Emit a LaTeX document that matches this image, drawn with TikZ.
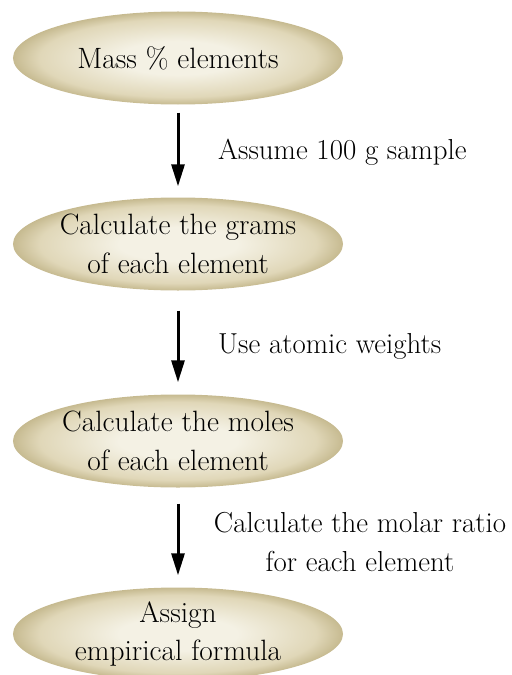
\documentclass[tikz,border=0pt]{standalone}
\usetikzlibrary{shapes.geometric,arrows.meta}
\definecolor{ovalin}{RGB}{244,241,228}
\definecolor{ovalmid}{RGB}{224,215,184}
\definecolor{ovalout}{RGB}{198,186,144}
\pgfdeclareradialshading{ovalshade}{\pgfpoint{0bp}{0bp}}{color(0bp)=(ovalin); color(9bp)=(ovalin); color(21bp)=(ovalmid); color(25bp)=(ovalout); color(50bp)=(ovalout)}
\tikzset{
  oval/.style={ellipse, draw=none, shading=ovalshade, minimum width=330bp, minimum height=93bp,
    inner xsep=-14bp, inner ysep=-10bp, align=center, font=\rmfamily\fontsize{29.5}{39}\selectfont},
  flowarrow/.style={line width=3bp, -{Triangle[length=22bp,width=13bp]}},
  steplabel/.style={font=\rmfamily\fontsize{29}{39}\selectfont, inner sep=0pt}
}
\begin{document}
\begin{tikzpicture}[x=1bp,y=-1bp]
\useasboundingbox (0,0) rectangle (512,675);
\node[oval] (e1) at (178,58) {Mass \% elements};
\node[oval] (e2) at (178,244) {Calculate the grams\\of each element};
\node[oval] (e3) at (178,441) {Calculate the moles\\of each element};
\node[oval] (e4) at (178,634) {Assign\\empirical formula};
\draw[flowarrow] ([yshift=-8bp]e1.south) -- ([yshift=11bp]e2.north);
\draw[flowarrow] ([yshift=-20bp]e2.south) -- ([yshift=12bp]e3.north);
\draw[flowarrow] ([yshift=-16bp]e3.south) -- ([yshift=12bp]e4.north);
\node[steplabel, anchor=west] (l1) at (218,152) {Assume 100 g sample};
\node[steplabel, anchor=west] (l2) at (218,346) {Use atomic weights};
\node[steplabel, align=center] (l3) at (360,542) {Calculate the molar ratio\\for each element};
\end{tikzpicture}
\end{document}
